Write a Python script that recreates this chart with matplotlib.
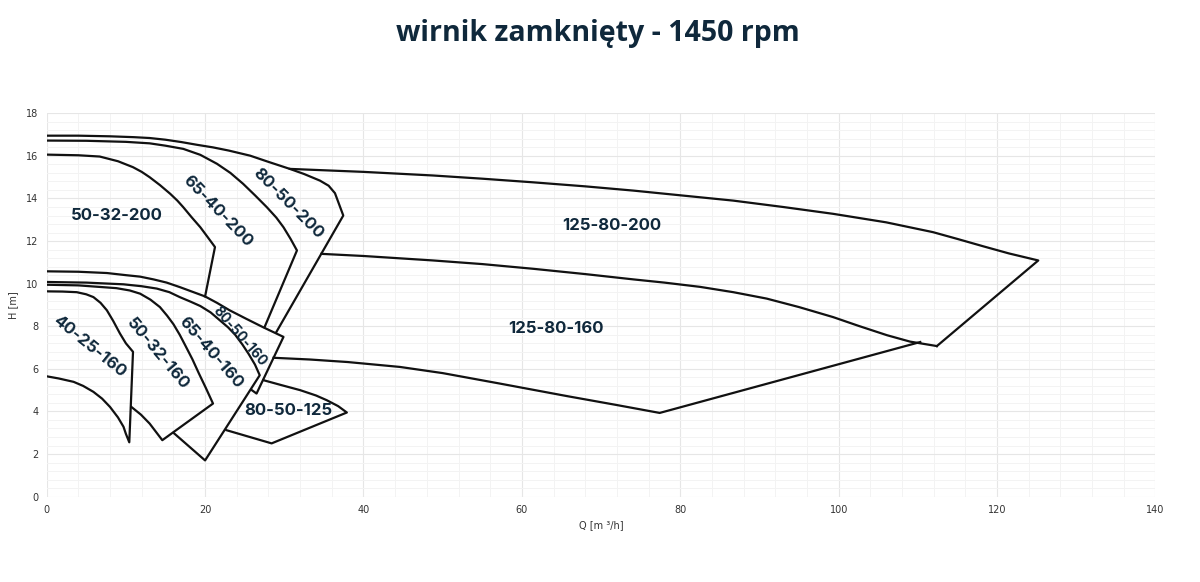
import matplotlib
matplotlib.use("Agg")
import matplotlib.pyplot as plt
from matplotlib.ticker import MultipleLocator

# ---- data (Q [m3/h], H [m]) ----
q_80_50_200 = [0, 4, 8, 11, 13, 15, 17, 19, 21, 23, 25.7, 28, 30.7, 32.5, 34.5, 35.6, 36.4, 37.45, 29.0]
h_80_50_200 = [16.95, 16.95, 16.92, 16.88, 16.84, 16.76, 16.65, 16.52, 16.4, 16.25, 16.01, 15.72, 15.39,
               15.15, 14.84, 14.6, 14.25, 13.2, 7.73]

q_65_40_200 = [0, 5, 10, 13, 15, 17.25, 19.4, 21.5, 23.2, 24.8, 26.3, 27.8, 29.0, 29.9, 30.8, 31.6, 27.5]
h_65_40_200 = [16.72, 16.71, 16.66, 16.59, 16.48, 16.33, 16.05, 15.63, 15.2, 14.69, 14.15, 13.59, 13.1,
               12.65, 12.1, 11.56, 7.95]

q_50_32_200 = [0, 4, 6.7, 9, 10.9, 12, 13, 14.3, 15.6, 16.5, 17.25, 18.3, 19.4, 20.3, 21.25, 20.0]
h_50_32_200 = [16.06, 16.03, 15.97, 15.75, 15.47, 15.25, 15.0, 14.63, 14.22, 13.9, 13.59, 13.12, 12.65,
               12.2, 11.72, 9.4]

q_125_80_200 = [30.7, 40, 48.8, 55, 61.4, 68, 74.1, 80, 86.7, 93, 99.3, 106, 111.9, 115, 118.3, 121.5, 125.2, 112.4]
h_125_80_200 = [15.39, 15.25, 15.08, 14.93, 14.76, 14.57, 14.37, 14.15, 13.9, 13.6, 13.28, 12.88, 12.42,
                12.1, 11.75, 11.42, 11.09, 7.07]

q_125_80_mid = [34.7, 40, 48.8, 55, 61.4, 68, 74.1, 78, 82.5, 86.7, 90.9, 95, 99.3, 102.5, 106.1, 109, 112.4]
h_125_80_mid = [11.4, 11.3, 11.09, 10.92, 10.7, 10.45, 10.2, 10.05, 9.85, 9.6, 9.3, 8.9, 8.43, 8.02, 7.58,
                7.28, 7.07]

q_125_80_160 = [28.65, 33.2, 38, 44.6, 50, 57.2, 65.7, 72, 77.4, 110.3]
h_125_80_160 = [6.52, 6.44, 6.32, 6.09, 5.8, 5.31, 4.72, 4.3, 3.93, 7.26]

q_80_50_160 = [0, 4, 7.6, 10, 11.8, 13.5, 15.15, 16.8, 18.4, 20.0, 21.5, 23.1, 25.2, 27.3, 29.9, 26.5, 25.9]
h_80_50_160 = [10.58, 10.56, 10.5, 10.4, 10.33, 10.2, 10.05, 9.84, 9.62, 9.4, 9.1, 8.75, 8.35, 7.96, 7.5,
               4.84, 5.0]

q_65_40_160 = [0, 5, 9.7, 12, 13.9, 15.5, 16.8, 18.2, 19.4, 20.7, 21.8, 22.9, 23.8, 24.7, 25.5, 26.3, 26.9,
               20.0, 16.0]
h_65_40_160 = [10.08, 10.05, 9.97, 9.88, 9.77, 9.6, 9.37, 9.15, 8.95, 8.65, 8.3, 7.95, 7.6, 7.15, 6.7, 6.2,
               5.7, 1.7, 3.0]

q_50_32_160 = [0, 4, 8.8, 10.5, 11.8, 13.1, 14.3, 15.2, 16.0, 16.8, 17.5, 18.4, 19.2, 20.1, 21.0, 14.6,
               13.0, 11.9, 10.7]
h_50_32_160 = [9.95, 9.92, 9.79, 9.68, 9.53, 9.25, 8.9, 8.5, 8.1, 7.6, 7.1, 6.45, 5.8, 5.1, 4.37, 2.65,
               3.43, 3.85, 4.21]

q_40_25_160 = [0, 2, 3.8, 5, 5.9, 6.8, 7.6, 8.4, 9.25, 10.0, 10.9, 10.43, 10.0, 9.7, 9.0, 8.0, 7.0, 5.9,
               4.6, 3.4, 1.5, 0]
h_40_25_160 = [9.64, 9.63, 9.6, 9.5, 9.37, 9.1, 8.75, 8.25, 7.66, 7.2, 6.8, 2.55, 2.95, 3.28, 3.72, 4.21,
               4.6, 4.92, 5.2, 5.39, 5.55, 5.65]

q_80_50_125 = [27.35, 29.5, 32.0, 34.0, 35.35, 36.8, 37.9, 28.4, 22.7]
h_80_50_125 = [5.47, 5.25, 5.0, 4.75, 4.53, 4.25, 3.95, 2.5, 3.12]

label_text = ["50-32-200", "65-40-200", "80-50-200", "125-80-200", "125-80-160",
              "40-25-160", "50-32-160", "65-40-160", "80-50-160", "80-50-125"]
label_q = [8.9, 21.6, 30.5, 71.4, 64.3, 5.35, 14.0, 20.7, 24.4, 30.5]
label_h = [13.2, 13.4, 13.75, 12.73, 7.9, 7.07, 6.72, 6.75, 7.53, 4.06]
label_rot = [0, -46, -45, 0, 0, -39, -50, -49, -49, 0]
label_size = [12, 12, 12, 12, 12, 12, 12, 12, 10, 12]

x_ticks = [0, 20, 40, 60, 80, 100, 120, 140]
y_ticks = [0, 2, 4, 6, 8, 10, 12, 14, 16, 18]

TXT = "#0f283b"

fig = plt.figure(figsize=(12, 5.82), dpi=100)
ax = fig.add_axes([0.0389, 0.1467, 0.9240, 0.6586])
ax.set_xlim(0, 140)
ax.set_ylim(0, 18)
ax.set_xticks(x_ticks)
ax.set_yticks(y_ticks)
ax.xaxis.set_minor_locator(MultipleLocator(4))
ax.yaxis.set_minor_locator(MultipleLocator(0.4))
ax.grid(which="major", color="#e6e6e6", lw=0.8)
ax.grid(which="minor", color="#f3f3f3", lw=0.7)
ax.set_axisbelow(True)
for s in ax.spines.values():
    s.set_visible(False)
ax.tick_params(which="both", length=0, labelsize=7, colors="#333333", pad=6)

curves = [(q_80_50_200, h_80_50_200), (q_65_40_200, h_65_40_200), (q_50_32_200, h_50_32_200),
          (q_125_80_200, h_125_80_200), (q_125_80_mid, h_125_80_mid), (q_125_80_160, h_125_80_160),
          (q_80_50_160, h_80_50_160), (q_65_40_160, h_65_40_160), (q_50_32_160, h_50_32_160),
          (q_40_25_160, h_40_25_160), (q_80_50_125, h_80_50_125)]
for q, h in curves:
    ax.plot(q, h, color="#111111", lw=1.6, solid_joinstyle="round")

for t, q, h, r, s in zip(label_text, label_q, label_h, label_rot, label_size):
    ax.text(q, h, t, rotation=r, ha="center", va="center", fontsize=s,
            fontweight="bold", color=TXT, family="Inter", rotation_mode="anchor")

ax.set_xlabel("Q [m \u00b3/h]", fontsize=7, color="#333333", labelpad=4)
ax.set_ylabel("H [m]", fontsize=7, color="#333333", labelpad=6)

fig.text(0.498, 0.943, "wirnik zamknięty - 1450 rpm", ha="center", va="center",
         fontsize=20.5, fontweight="bold", color=TXT, family="Open Sans")

fig.savefig("out.png", dpi=100)
